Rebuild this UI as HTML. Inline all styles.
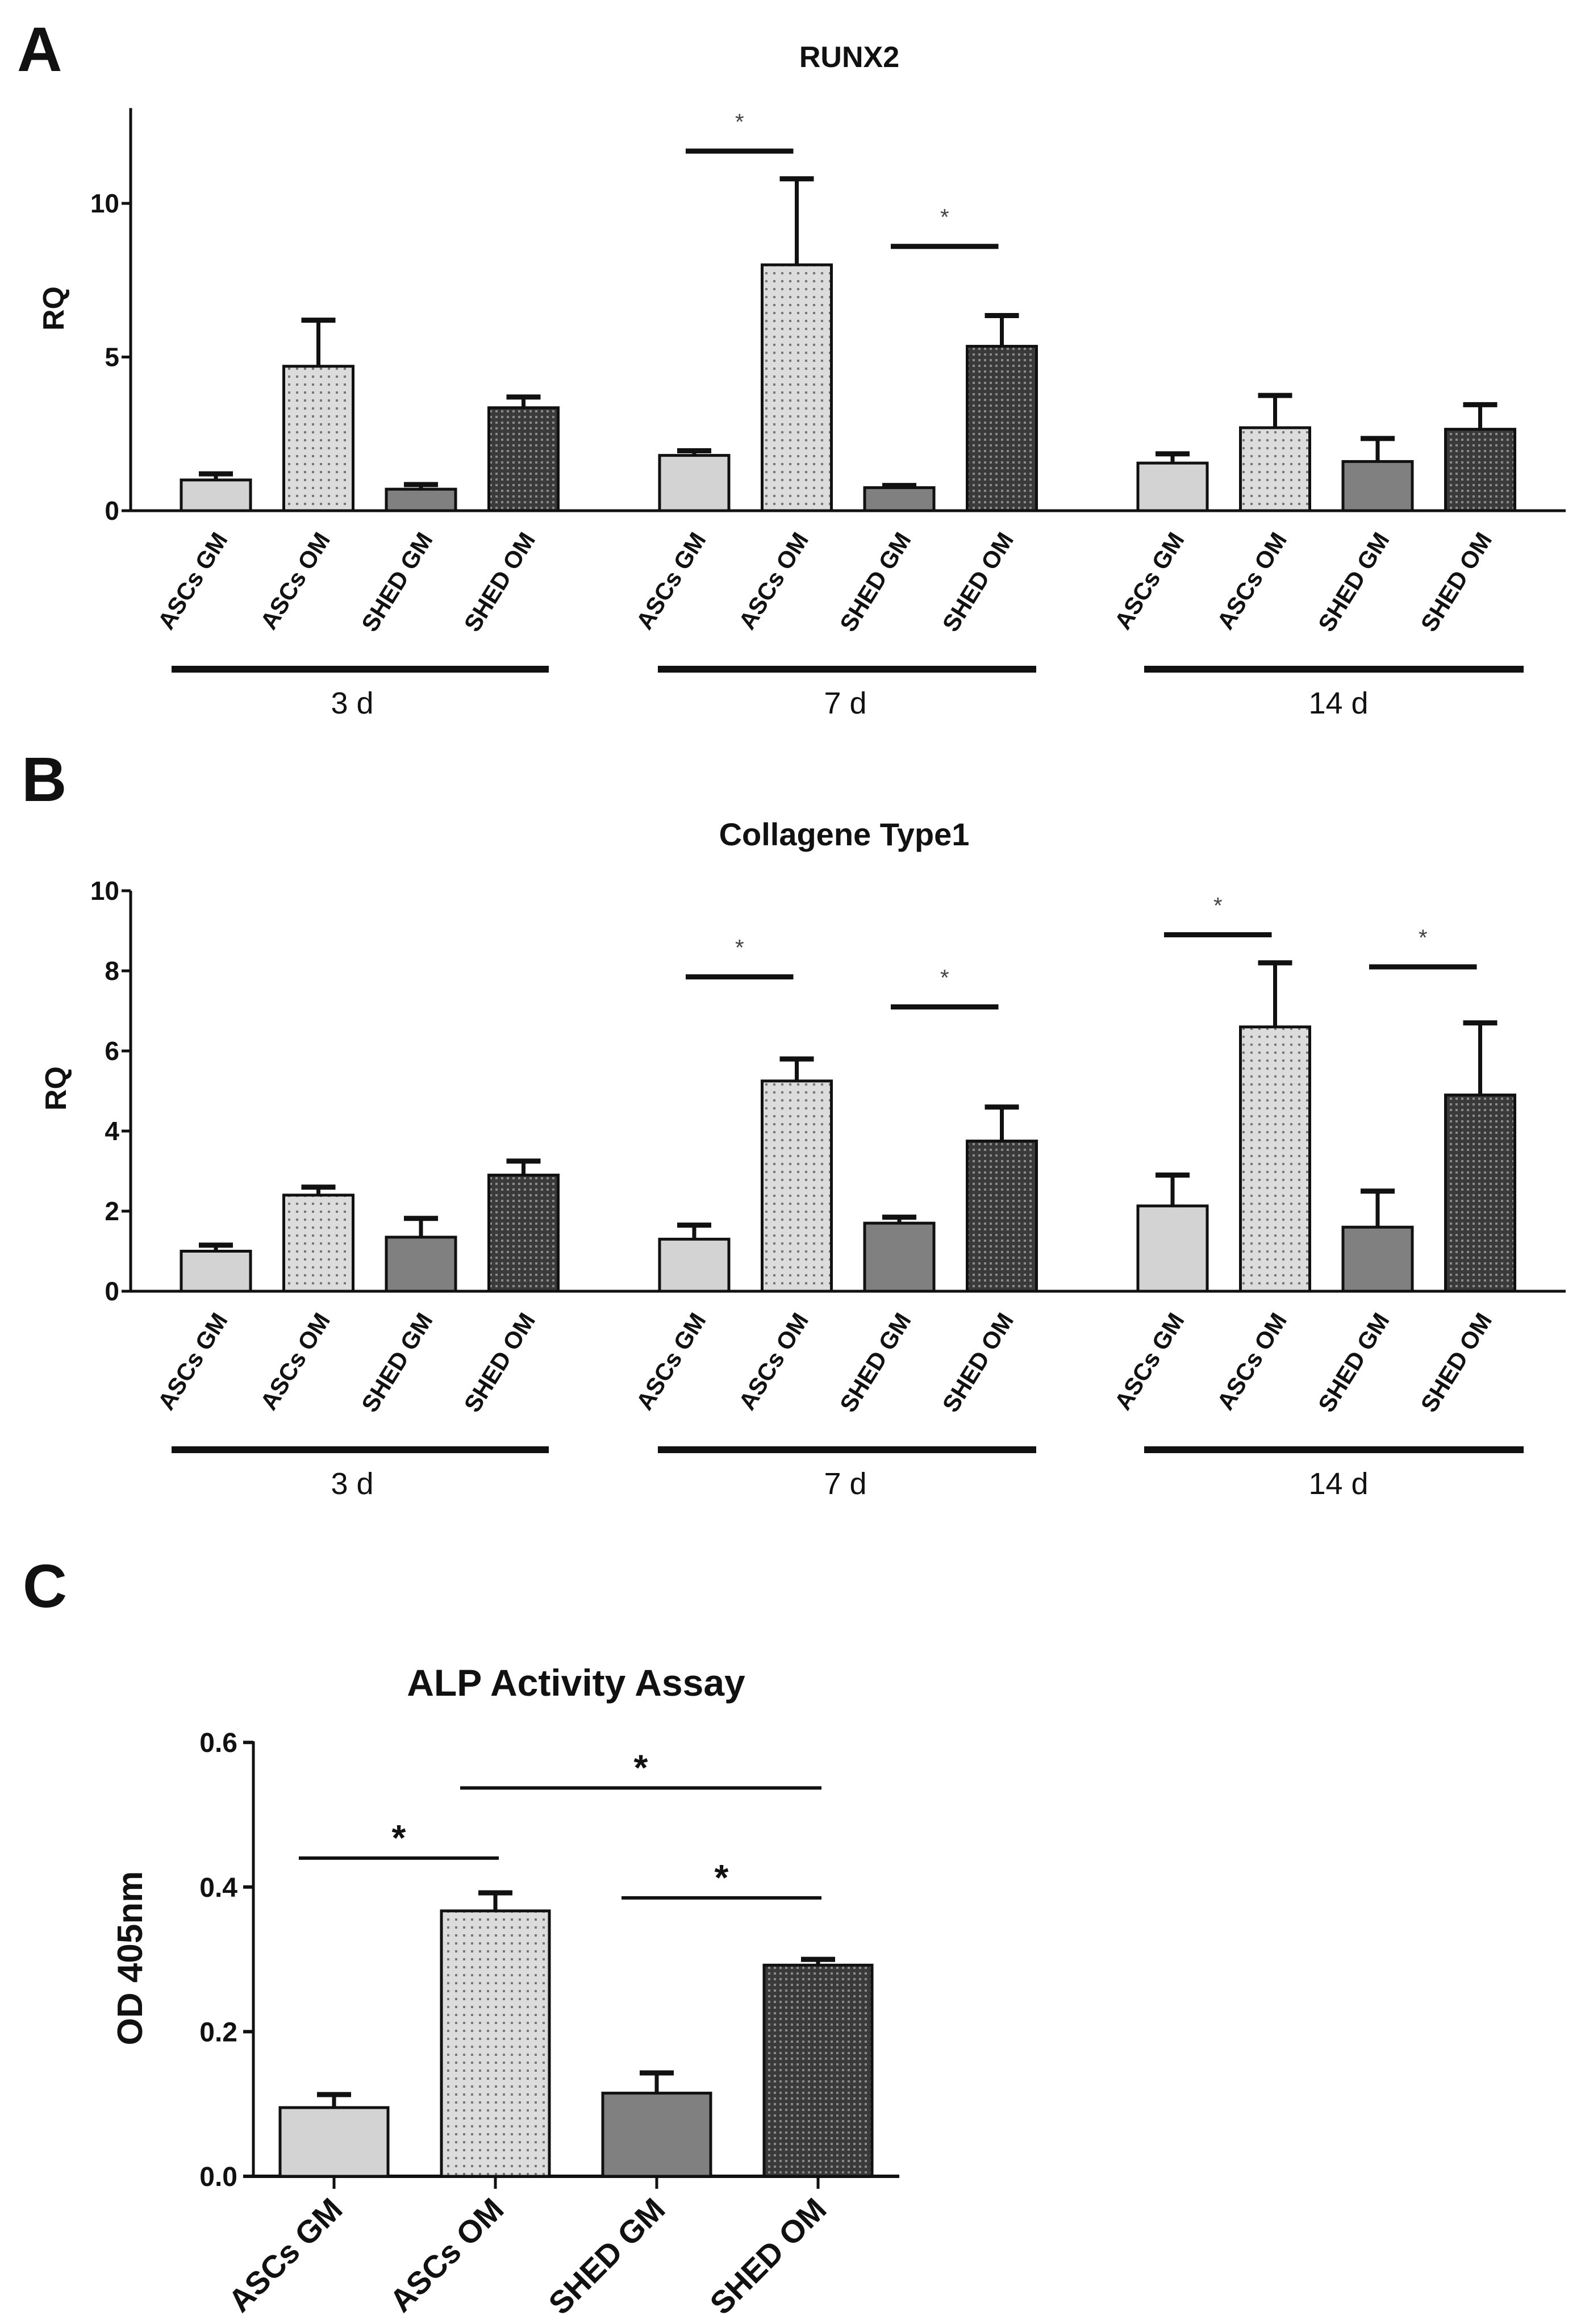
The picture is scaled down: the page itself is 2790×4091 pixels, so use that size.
<!DOCTYPE html>
<html><head><meta charset="utf-8"><style>
html,body{margin:0;padding:0;background:#fff}
svg{display:block;font-family:"Liberation Sans",Arial,sans-serif}
</style></head><body>
<svg id="fig" width="2790" height="4091" viewBox="0 0 2790 4091" xmlns="http://www.w3.org/2000/svg">
<defs>
<pattern id="dots" width="14" height="14" patternUnits="userSpaceOnUse"><rect width="14" height="14" fill="#dcdcdc"/><rect x="3" y="3" width="4" height="4" fill="#777"/></pattern>
<pattern id="hatch" width="10" height="10" patternUnits="userSpaceOnUse"><rect width="10" height="10" fill="#3a3a3a"/><rect x="2" y="2" width="4" height="4" fill="#8a8a8a"/></pattern>
</defs>
<g id="root"></g>
</svg>
<script>
// ---- data ----
const groupNames = ["3 d", "7 d", "14 d"];
const conditions = ["ASCs GM", "ASCs OM", "SHED GM", "SHED OM"];
const runxMeans = [[1.0, 4.7, 0.7, 3.35], [1.8, 8.0, 0.75, 5.35], [1.55, 2.7, 1.6, 2.65]];
const runxErr = [[0.2, 1.5, 0.15, 0.35], [0.15, 2.8, 0.07, 1.0], [0.3, 1.05, 0.75, 0.8]];
const runxTicks = [0, 5, 10];
const colMeans = [[1.0, 2.4, 1.35, 2.9], [1.3, 5.25, 1.7, 3.75], [2.13, 6.6, 1.6, 4.9]];
const colErr = [[0.15, 0.2, 0.47, 0.35], [0.35, 0.55, 0.15, 0.85], [0.77, 1.6, 0.9, 1.8]];
const colTicks = [0, 2, 4, 6, 8, 10];
const alpMeans = [0.095, 0.367, 0.115, 0.292];
const alpErr = [0.018, 0.025, 0.028, 0.008];
const alpTicks = ["0.0", "0.2", "0.4", "0.6"];
// significance: [group, barA, barB, value]
const runxSig = [[1, 0, 1, 11.7], [1, 2, 3, 8.6]];
const colSig = [[1, 0, 1, 7.85], [1, 2, 3, 7.1], [2, 0, 1, 8.9], [2, 2, 3, 8.1]];
const alpSig = [[0, 1, 0.44], [1, 3, 0.537], [2, 3, 0.385]];

const NS = "http://www.w3.org/2000/svg";
const root = document.getElementById("root");
const fills = ["#d3d3d3", "url(#dots)", "#808080", "url(#hatch)"];
function mk(tag, attrs, parent, text) {
  const e = document.createElementNS(NS, tag);
  for (const k in attrs) e.setAttribute(k, attrs[k]);
  if (text !== undefined) e.textContent = text;
  (parent || root).appendChild(e);
  return e;
}
function line(x1, y1, x2, y2, w, name) {
  const l = mk("line", {x1, y1, x2, y2, stroke: "#111", "stroke-width": w});
  
  
  return l;
}
function txt(x, y, s, size, weight, name, extra) {
  const t = mk("text", Object.assign({x, y, "font-size": size, "font-weight": weight, fill: "#111"}, extra || {}), root, s);
  
  
  return t;
}
function bar(x, w, yTop, y0, fill, name) {
  const r = mk("rect", {x, y: yTop, width: w, height: y0 - yTop, fill, stroke: "#111", "stroke-width": 5});
  
  
}
function errbar(cx, yTop, yErr, name) {
  line(cx, yTop, cx, yErr, 7, name);
  line(cx - 30, yErr, cx + 30, yErr, 9, name + "-cap");
}

function groupedPanel(opt) {
  const y = v => opt.y0 - (v - 0) * opt.ppu;
  const cx = (g, i) => 380 + g * 842 + i * 180.5;
  line(230, y(opt.top), 230, opt.y0 + 2, 5, "y-axis-line");
  line(228, opt.y0, 2756, opt.y0, 5, "x-axis-line");
  opt.ticks.forEach(t => {
    line(214, y(t), 230, y(t), 5, "y-tick");
    txt(210, y(t) + 16, String(t), 46, "bold", "y-tick-label", {"text-anchor": "end"});
  });
  opt.means.forEach((grp, g) => grp.forEach((v, i) => {
    const c = cx(g, i);
    bar(c - 61, 122, y(v), opt.y0, fills[i], "bar-" + g + "-" + i);
    errbar(c, y(v), y(v + opt.err[g][i]), "error-bar");
    txt(c + 22, opt.y0 + 50, conditions[i], 42, "bold", "x-tick-label",
        {"text-anchor": "end", transform: `rotate(-58 ${c + 22} ${opt.y0 + 50})`});
  }));
  groupNames.forEach((n, g) => {
    line(302 + g * 856, opt.gy, 966 + g * 858, opt.gy, 12, "group-line");
    txt(620 + g * 868, opt.gy + 78, n, 54, "normal", "group-label", {"text-anchor": "middle"});
  });
  opt.sig.forEach(s => {
    const x1 = cx(s[0], s[1]) - 15, x2 = cx(s[0], s[2]) - 6;
    line(x1, y(s[3]), x2, y(s[3]), 9, "significance-line");
    txt((x1 + x2) / 2, y(s[3]) - 38, "*", 40, "normal", "significance-star", {"text-anchor": "middle", fill: "#444"});
  });
}

// Panel A
txt(30, 125, "A", 110, "bold", "panel-a-label");
txt(1495, 118, "RUNX2", 52, "bold", "panel-a-title", {"text-anchor": "middle"});
txt(112, 543, "RQ", 52, "bold", "y-axis-title", {"text-anchor": "middle", transform: "rotate(-90 112 543)"});
groupedPanel({y0: 899, ppu: 54.1, top: 13.1, ticks: runxTicks, means: runxMeans, err: runxErr, sig: runxSig, gy: 1178});

// Panel B
txt(38, 1410, "B", 110, "bold", "panel-b-label");
txt(1486, 1488, "Collagene Type1", 56, "bold", "panel-b-title", {"text-anchor": "middle"});
txt(116, 1916, "RQ", 52, "bold", "y-axis-title", {"text-anchor": "middle", transform: "rotate(-90 116 1916)"});
groupedPanel({y0: 2273, ppu: 70.5, top: 10, ticks: colTicks, means: colMeans, err: colErr, sig: colSig, gy: 2552});

// Panel C
(function () {
  const y0 = 3831, ppu = 1273;
  const y = v => y0 - v * ppu;
  const cx = i => 588 + i * 284;
  txt(40, 2829, "C", 108, "bold", "panel-c-label");
  txt(1014, 2985, "ALP Activity Assay", 66, "bold", "panel-c-title", {"text-anchor": "middle"});
  txt(250, 3447, "OD 405nm", 62, "bold", "y-axis-title", {"text-anchor": "middle", transform: "rotate(-90 250 3447)"});
  line(446, y(0.6) - 2, 446, y0 + 2, 5, "y-axis-line");
  line(430, y0, 1583, y0, 6, "x-axis-line");
  alpTicks.forEach(t => {
    line(428, y(+t), 446, y(+t), 6, "y-tick");
    txt(418, y(+t) + 17, t, 48, "bold", "y-tick-label", {"text-anchor": "end"});
  });
  alpMeans.forEach((v, i) => {
    const c = cx(i);
    bar(c - 95, 190, y(v), y0, fills[i], "alp-bar-" + i);
    errbar(c, y(v), y(v + alpErr[i]), "error-bar");
    line(c, y0, c, y0 + 22, 5, "x-tick");
    txt(c + 18, y0 + 62, conditions[i], 56, "bold", "x-tick-label",
        {"text-anchor": "end", transform: `rotate(-45 ${c + 18} ${y0 + 62})`});
  });
  alpSig.forEach(s => {
    const x1 = cx(s[0]) - 62, x2 = cx(s[1]) + 6;
    line(x1, y(s[2]), x2, y(s[2]), 6, "significance-line");
    txt((x1 + x2) / 2, y(s[2]) - 14, "*", 64, "bold", "significance-star", {"text-anchor": "middle"});
  });
})();
</script>
</body></html>
